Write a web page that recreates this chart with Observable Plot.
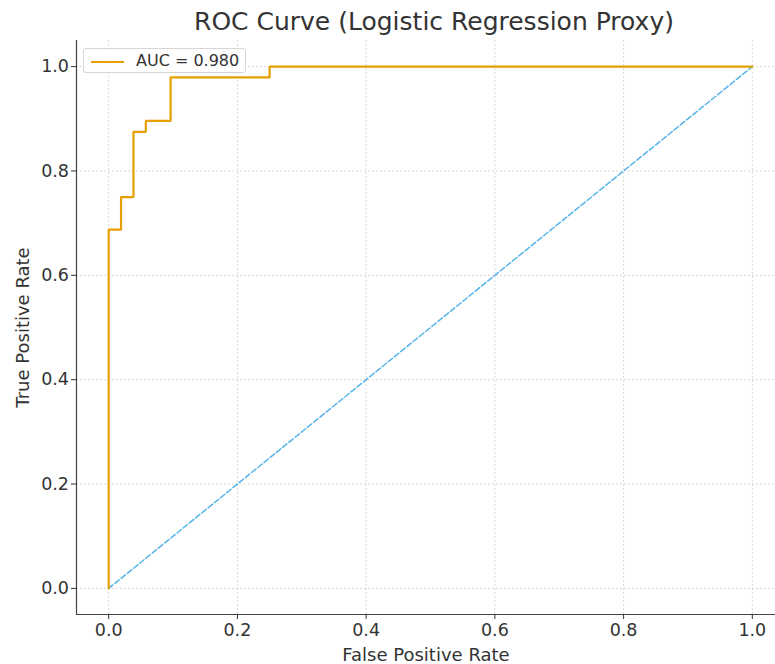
<!DOCTYPE html>
<html>
<head>
<meta charset="utf-8">
<script src="https://cdn.jsdelivr.net/npm/d3@7"></script>
<script src="https://cdn.jsdelivr.net/npm/@observablehq/plot@0.6"></script>
<style>
  html, body { margin: 0; padding: 0; background: #fff; overflow: hidden; }
  #wrap { position: relative; width: 775px; height: 664px; font-family: "DejaVu Sans", sans-serif; color: #333; }
  #title { position: absolute; left: 80px; width: 708px; top: 9px; line-height: 25px; text-align: center; font-size: 25px; color: #333; white-space: nowrap; }
  #legend { position: absolute; left: 83px; top: 48px; width: 163px; height: 25px; box-sizing: border-box;
            border: 1px solid #d6d6d6; border-radius: 3px; background: rgba(255,255,255,0.85);
            font-size: 16px; line-height: 16px; color: #333; }
  #legend .sw { position: absolute; left: 7px; top: 11.5px; width: 33px; height: 2.2px; background: #E69F00; }
  #legend .lb { position: absolute; left: 52px; top: 4px; white-space: nowrap; }
</style>
</head>
<body>
<div id="wrap">
  <div id="chart"></div>
  <div id="title">ROC Curve (Logistic Regression Proxy)</div>
  <div id="legend"><div class="sw"></div><div class="lb">AUC = 0.980</div></div>
</div>
<script>
// ROC curve points
const fpr = [0, 0, 0.0192, 0.0192, 0.0385, 0.0385, 0.0577, 0.0577, 0.0962, 0.0962, 0.25, 0.25, 1];
const tpr = [0, 0.6875, 0.6875, 0.75, 0.75, 0.875, 0.875, 0.8958, 0.8958, 0.9792, 0.9792, 1, 1];
// chance diagonal
const diagX = [0, 1];
const diagY = [0, 1];
const ticks = [0, 0.2, 0.4, 0.6, 0.8, 1.0];
const aucLabel = "AUC = 0.980";

const roc = fpr.map((x, i) => ({x, y: tpr[i]}));
const diag = diagX.map((x, i) => ({x, y: diagY[i]}));

const plot = Plot.plot({
  width: 775,
  height: 664,
  marginTop: 40,
  marginLeft: 76,
  marginBottom: 50,
  marginRight: 0,
  style: {fontFamily: "DejaVu Sans, sans-serif", fontSize: "17.5px", color: "#333", background: "transparent", overflow: "hidden"},
  x: {domain: [-0.05, 1.05], range: [76, 784]},
  y: {domain: [-0.05, 1.05], range: [614, 40]},
  marks: [
    Plot.gridX(ticks, {stroke: "#b0b0b0", strokeOpacity: 0.6, strokeDasharray: "2,2", strokeWidth: 0.8}),
    Plot.gridY(ticks, {stroke: "#b0b0b0", strokeOpacity: 0.6, strokeDasharray: "2,2", strokeWidth: 0.8}),
    Plot.line(diag, {x: "x", y: "y", stroke: "#56B4E9", strokeWidth: 1.5, strokeDasharray: "5.5,2.5"}),
    Plot.line(roc, {x: "x", y: "y", stroke: "#E69F00", strokeWidth: 2.2, strokeLinejoin: "miter"}),
    Plot.ruleX([-0.05], {stroke: "#444", strokeWidth: 1.2}),
    Plot.ruleY([-0.05], {stroke: "#444", strokeWidth: 1.2}),
    Plot.axisX(ticks, {tickFormat: d => d.toFixed(1), tickSize: 5, tickPadding: 4, label: null, fontSize: 17.5}),
    Plot.axisY(ticks, {tickFormat: d => d.toFixed(1), tickSize: 5, tickPadding: 2.5, label: null, fontSize: 17.5}),
    Plot.axisX({label: "False Positive Rate", labelAnchor: "center", labelArrow: "none", labelOffset: 46, ticks: [], tickSize: 0, fontSize: 18}),
    Plot.axisY({label: "True Positive Rate", labelAnchor: "center", labelArrow: "none", labelOffset: 60, ticks: [], tickSize: 0, fontSize: 18})
  ]
});
document.getElementById("chart").appendChild(plot);
</script>
</body>
</html>
